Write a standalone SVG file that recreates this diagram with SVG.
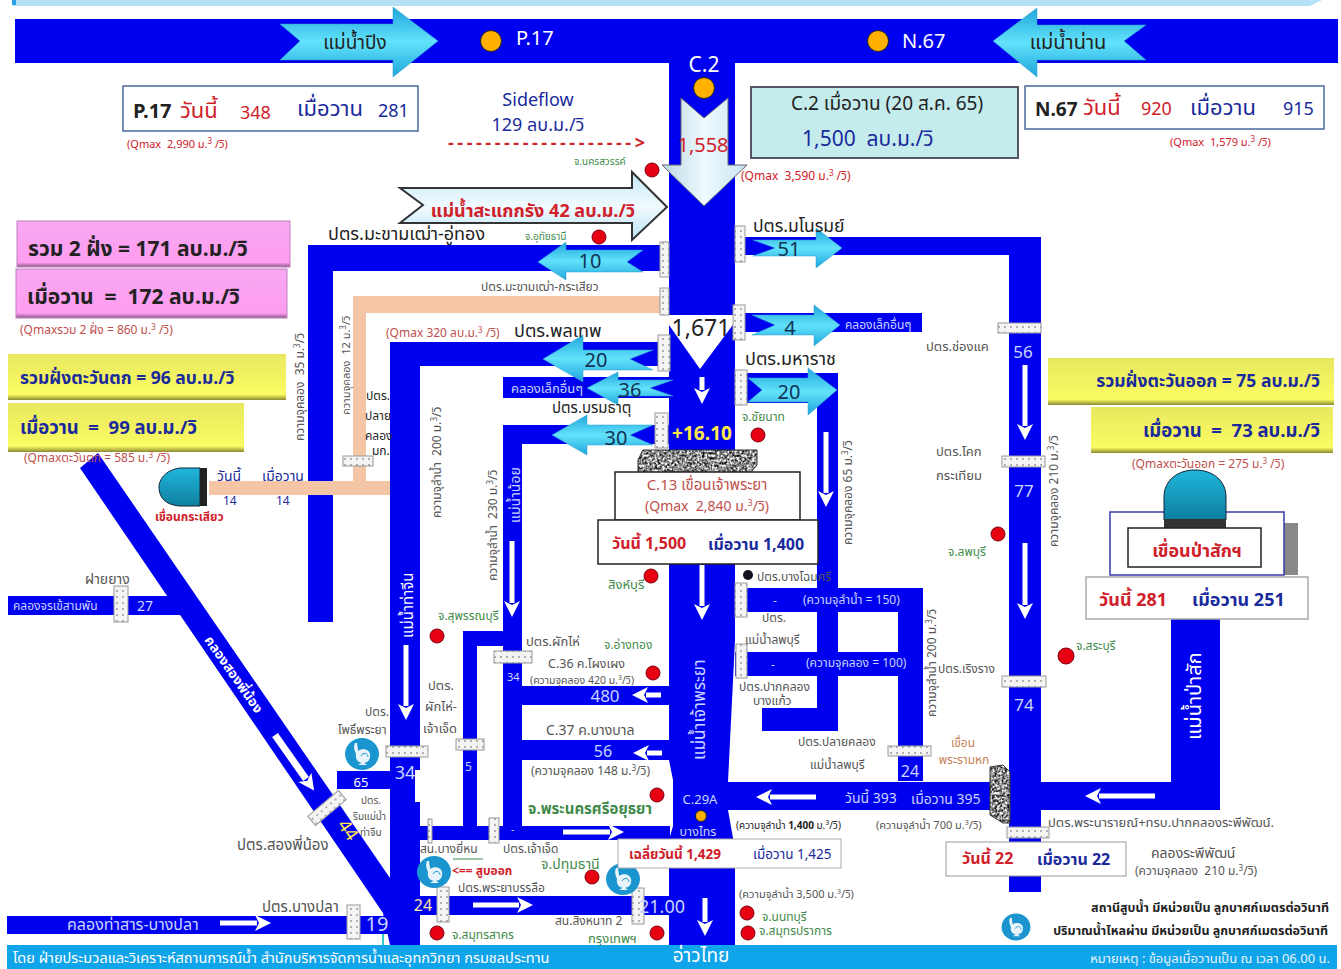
<svg xmlns="http://www.w3.org/2000/svg" width="1341" height="969" viewBox="0 0 1341 969">
<style>
text{font-family:"Noto Sans Thai","Liberation Sans","Noto Sans","Noto Sans CJK SC",sans-serif;fill:#333;white-space:pre}
.c{text-anchor:middle}.r{text-anchor:end}.b{font-weight:bold}
.red{fill:#d0202a}.navy{fill:#1a2a9c}.dk{fill:#222}.gr{fill:#3f8a4a}.gy{fill:#555}.lt{fill:#c9d6ff}.w{fill:#fff}.pk{fill:#c0504d}.yl{fill:#ffe94a}.nv{fill:#135}
.ch{fill:#0000f0}.pe{fill:#f5c6a5}
.gate{fill:url(#dots);stroke:#999;stroke-width:1}
.ca{fill:url(#cy);stroke:#2a9fd0;stroke-width:.5}
.ar{fill:none;stroke:#fff;stroke-width:5;marker-end:url(#h)}
.rd{fill:#e60012;stroke:#7a0010;stroke-width:1}
.or{fill:#ffb000;stroke:#222;stroke-width:1}
.box{fill:#fff;stroke:#4a6a9a;stroke-width:1.5}
.bk{fill:#fff;stroke:#222;stroke-width:1.5}
.pump{fill:#1a95cf}
</style>
<defs>
<linearGradient id="cy" x1="0" y1="0" x2="0" y2="1"><stop offset="0" stop-color="#1fa6dc"/><stop offset=".5" stop-color="#62e2fb"/><stop offset="1" stop-color="#1fa6dc"/></linearGradient>
<linearGradient id="lc" x1="0" y1="0" x2="0" y2="1"><stop offset="0" stop-color="#c0e8f8"/><stop offset=".5" stop-color="#f2fbff"/><stop offset="1" stop-color="#b8e2f2"/></linearGradient>
<linearGradient id="ld" x1="0" y1="0" x2="1" y2="0"><stop offset="0" stop-color="#bcd8e2"/><stop offset=".5" stop-color="#eefaff"/><stop offset="1" stop-color="#c8e4ee"/></linearGradient>
<linearGradient id="pkg" x1="0" y1="0" x2="0" y2="1"><stop offset="0" stop-color="#f8a8f0"/><stop offset=".9" stop-color="#ff9df2"/><stop offset="1" stop-color="#8a5a88"/></linearGradient>
<linearGradient id="ylg" x1="0" y1="0" x2="0" y2="1"><stop offset="0" stop-color="#e8e860"/><stop offset=".88" stop-color="#fbfb62"/><stop offset="1" stop-color="#8a8a30"/></linearGradient>
<linearGradient id="dom" x1="0" y1="0" x2="0" y2="1"><stop offset="0" stop-color="#1fb6dc"/><stop offset="1" stop-color="#0f7f9f"/></linearGradient>
<pattern id="dots" width="6" height="6" patternUnits="userSpaceOnUse"><rect width="6" height="6" fill="#f4f4f4"/><circle cx="3" cy="3" r="1" fill="#999"/></pattern>
<marker id="h" markerUnits="userSpaceOnUse" markerWidth="18" markerHeight="18" refX="2" refY="9" orient="auto"><path d="M0,1 L16,9 L0,17 L4,9Z" fill="#fff"/></marker>
<filter id="noise" x="0" y="0" width="1" height="1" color-interpolation-filters="sRGB"><feTurbulence type="fractalNoise" baseFrequency=".4" numOctaves="2"/><feColorMatrix values="2 0 0 0 -.45 2 0 0 0 -.45 2 0 0 0 -.45 0 0 0 0 1"/><feComposite in2="SourceGraphic" operator="in"/></filter>
<g id="pu"><ellipse rx="17" ry="16" class="pump"/><path d="M-7,-11C-9,-6 -7,-3 -6,0C-7,5 -4,9 1,9C6,9 9,5 8,0C7,-5 0,-6 -4,-3C-4,-6 -5,-9 -5,-11Z" fill="#e8f4fa"/><path d="M-4,11H5L1,8Z" fill="#e8f4fa"/><path d="M-1,2C1,-2 6,-1 6,3" fill="none" stroke="#1a95cf"/></g>
</defs>
<rect width="1341" height="969" fill="#fff"/>
<g id="banners">
<path d="M13,0H1322L1310,6H13Z" fill="#b5e0f5"/><rect x="12" y="0" width="4" height="5" fill="#2aa0e8"/>
<rect x="7" y="945" width="1330" height="24" fill="#10a4ea"/>
</g>
<g id="connectors">
<rect class="ch" x="15" y="19" width="1323" height="44"/>
<path class="ch" d="M669,63H735V640L728,782V810L733,838L735,850V945H669V840L673,826V780L669,760Z"/>
<path class="ch" d="M735,237H1041V892H1009V255H735Z"/>
<path class="ch" d="M333,622H308V245H670V271H333Z"/>
<path class="ch" d="M735,313H922V332H735Z"/>
<path class="ch" d="M420,945H390V342H670V366H420V770H415V802H420Z"/>
<rect class="ch" x="503" y="377" width="167" height="21"/>
<path class="ch" d="M522,826H503V425H670V444H522Z"/>
<path class="ch" d="M735,373H838V731H762V708H817V403H735Z"/>
<path class="ch" d="M735,588H923V781H898V612H735Z"/>
<rect class="ch" x="735" y="652" width="165" height="24"/>
<rect class="ch" x="522" y="686" width="147" height="19"/>
<rect class="ch" x="522" y="740" width="147" height="20"/>
<rect class="ch" x="420" y="826" width="250" height="14"/>
<path class="ch" d="M463,826V631H503V646H477V826Z"/>
<rect class="ch" x="420" y="896" width="250" height="19"/>
<rect class="ch" x="337" y="771" width="55" height="18"/>
<path class="ch" d="M80,468L98,453L390,878V945L383,913Z"/>
<rect class="ch" x="8" y="596" width="172" height="19"/>
<rect class="ch" x="7" y="916" width="384" height="18"/>
<path class="ch" d="M728,782H1171V619H1220V810H728Z"/>
<path class="pe" d="M353,296H660V313H366V481H390V495H209V481H353Z"/>
<rect x="382" y="934" width="2" height="11" fill="#3cc"/>
<path fill="#fff" d="M669,315H735V322L700,369L669,325Z"/>
<line class="ar" x1="702" y1="377" x2="702" y2="390"/>
<line class="ar" x1="702" y1="565" x2="702" y2="606"/>
<line class="ar" x1="512" y1="541" x2="512" y2="603"/>
<line class="ar" x1="826" y1="432" x2="826" y2="493"/>
<line class="ar" x1="1025" y1="365" x2="1025" y2="426"/>
<line class="ar" x1="1025" y1="543" x2="1025" y2="605"/>
<line class="ar" x1="406" y1="645" x2="406" y2="706"/>
<line class="ar" x1="275" y1="735" x2="306" y2="779" style="stroke-width:7"/>
<line class="ar" x1="220" y1="923" x2="257" y2="923"/>
<line class="ar" x1="661" y1="695" x2="646" y2="695"/>
<line class="ar" x1="662" y1="753" x2="647" y2="753"/>
<line class="ar" x1="563" y1="832" x2="610" y2="832"/>
<line class="ar" x1="473" y1="905" x2="519" y2="905"/>
<line class="ar" x1="705" y1="898" x2="705" y2="922"/>
<line class="ar" x1="816" y1="797" x2="770" y2="797"/>
<line class="ar" x1="1155" y1="796" x2="1099" y2="796"/>
</g>
<g id="flow-arrows">
<polygon class="ca" points="280,24 393,24 393,7 438,41 393,77 393,60 280,60 300,41"/>
<polygon class="ca" points="1146,25 1037,25 1037,8 993,41 1037,77 1037,60 1146,60 1124,41"/>
<polygon points="400,188 632,188 632,172 667,207 632,240 632,223 400,223 423,205" fill="url(#lc)" stroke="#333" stroke-width="2"/>
<polygon points="681,98 704,118 728,98 728,165 747,165 704,206 662,165 681,165" fill="url(#ld)" stroke="#667" stroke-width="1"/>
<polygon class="ca" points="643,250 566,250 566,242 538,262 566,280 566,272 643,272 627,262"/>
<polygon class="ca" points="753,240 816,240 816,228 842,248 816,268 816,256 753,256 775,248"/>
<polygon class="ca" points="752,315 814,315 814,305 840,325 814,346 814,335 752,335 775,325"/>
<polygon class="ca" points="748,378 808,378 808,368 837,390 808,415 808,402 748,402 762,390"/>
<polygon class="ca" points="653,350 583,350 583,335 543,359 583,382 583,370 653,370 630,359"/>
<polygon class="ca" points="673,380 618,380 618,372 587,388 618,405 618,396 673,396 650,388"/>
<polygon class="ca" points="653,425 587,425 587,415 552,435 587,455 587,445 653,445 630,435"/>
</g>
<g id="gates">
<rect class="gate" x="660" y="242" width="9" height="35"/>
<rect class="gate" x="660" y="288" width="9" height="27"/>
<rect class="gate" x="735" y="226" width="10" height="36"/>
<rect class="gate" x="733" y="305" width="12" height="35"/>
<rect class="gate" x="658" y="335" width="12" height="36"/>
<rect class="gate" x="735" y="370" width="12" height="35"/>
<rect class="gate" x="655" y="413" width="13" height="35"/>
<rect class="gate" x="735" y="583" width="12" height="34"/>
<rect class="gate" x="736" y="644" width="11" height="34"/>
<rect class="gate" x="998" y="323" width="43" height="10"/>
<rect class="gate" x="1002" y="456" width="43" height="11"/>
<rect class="gate" x="1002" y="676" width="44" height="11"/>
<rect class="gate" x="888" y="746" width="43" height="10"/>
<rect class="gate" x="1007" y="827" width="42" height="11"/>
<rect class="gate" x="386" y="746" width="42" height="11"/>
<rect class="gate" x="114" y="586" width="14" height="36"/>
<rect class="gate" x="347" y="905" width="13" height="34"/>
<rect class="gate" x="437" y="887" width="12" height="35"/>
<rect class="gate" x="632" y="888" width="12" height="36"/>
<rect class="gate" x="307" y="802" width="40" height="12" transform="rotate(-40 327 808)"/>
<rect class="gate" x="494" y="651" width="38" height="12"/>
<rect class="gate" x="456" y="739" width="28" height="11"/>
<rect class="gate" x="343" y="456" width="30" height="10"/>
<rect class="gate" x="489" y="818" width="10" height="25"/>
<rect class="gate" x="428" y="819" width="4" height="24"/>
</g>
<g id="dots">
<circle class="rd" cx="652" cy="170" r="7"/><circle class="rd" cx="599" cy="237" r="7"/><circle class="rd" cx="758" cy="435" r="7"/><circle class="rd" cx="651" cy="576" r="7"/><circle class="rd" cx="998" cy="534" r="7"/><circle class="rd" cx="1066" cy="656" r="8"/><circle class="rd" cx="437" cy="636" r="7"/><circle class="rd" cx="653" cy="673" r="7"/><circle class="rd" cx="657" cy="795" r="7"/><circle class="rd" cx="592" cy="877" r="7"/><circle class="rd" cx="437" cy="933" r="7"/><circle class="rd" cx="657" cy="933" r="7"/><circle class="rd" cx="747" cy="913" r="7"/><circle class="rd" cx="748" cy="933" r="7"/>
<circle class="or" cx="491" cy="41" r="10.500"/><circle class="or" cx="878" cy="41" r="10.500"/><circle class="or" cx="704" cy="88" r="10.500"/><circle class="or" cx="701" cy="816" r="5.500"/><circle cx="748" cy="575" r="5" fill="#112"/>
<use href="#pu" x="362" y="754"/><use href="#pu" x="434" y="872"/><use href="#pu" x="623" y="879"/><use href="#pu" transform="translate(1016 927) scale(.85)"/>
</g>
<g id="p17-box"><rect class="box" x="123" y="86" width="295" height="45"/>
<text class="b dk" x="133" y="118" font-size="20">P.17</text><text class="red" x="180" y="118" font-size="22">วันนี้</text><text class="red" x="240" y="119" font-size="18">348</text><text class="navy" x="297" y="116" font-size="22">เมื่อวาน</text><text class="navy" x="378" y="117" font-size="18">281</text></g>
<g id="c2-box"><rect x="751" y="87" width="267" height="71" fill="#c5ecec" stroke="#556" stroke-width="2"/>
<text class="c dk" x="887" y="110" font-size="19">C.2 เมื่อวาน (20 ส.ค. 65)</text><text class="navy" x="802" y="146" font-size="21">1,500  ลบ.ม./วิ</text></g>
<g id="n67-box"><rect class="box" x="1025" y="86" width="299" height="43"/>
<text class="b dk" x="1035" y="116" font-size="19">N.67</text><text class="red" x="1083" y="115" font-size="22">วันนี้</text><text class="red" x="1141" y="115" font-size="18">920</text><text class="navy" x="1190" y="115" font-size="22">เมื่อวาน</text><text class="navy" x="1283" y="115" font-size="18">915</text></g>
<g id="sum-boxes">
<rect x="17" y="221" width="273" height="46" fill="url(#pkg)" stroke="#c080c0"/><text class="b dk" x="28" y="256" font-size="21">รวม 2 ฝั่ง = 171 ลบ.ม./วิ</text>
<rect x="16" y="269" width="271" height="49" fill="url(#pkg)" stroke="#c080c0"/><text class="b dk" x="27" y="304" font-size="21">เมื่อวาน  =  172 ลบ.ม./วิ</text>
<rect x="8" y="354" width="278" height="46" fill="url(#ylg)"/><text class="b navy" x="20" y="384" font-size="17.500">รวมฝั่งตะวันตก = 96 ลบ.ม./วิ</text>
<rect x="8" y="403" width="236" height="49" fill="url(#ylg)"/><text class="b navy" x="20" y="434" font-size="18.500">เมื่อวาน  =  99 ลบ.ม./วิ</text>
<rect x="1048" y="358" width="286" height="47" fill="url(#ylg)"/><text class="b navy r" x="1320" y="387" font-size="17.500">รวมฝั่งตะวันออก = 75 ลบ.ม./วิ</text>
<rect x="1091" y="407" width="242" height="46" fill="url(#ylg)"/><text class="b navy r" x="1320" y="437" font-size="18.500">เมื่อวาน  =  73 ลบ.ม./วิ</text>
</g>
<g id="krasiao-dam">
<path d="M200,468H180C165,470 159,480 159,487C159,497 165,505 180,506H200Z" fill="url(#dom)" stroke="#123" stroke-width="1"/><rect x="200" y="468" width="7" height="38" fill="#222"/>
<text class="navy" x="217" y="481" font-size="14">วันนี้</text><text class="navy" x="262" y="481" font-size="14">เมื่อวาน</text><text class="navy" x="223" y="505" font-size="12">14</text><text class="navy" x="276" y="505" font-size="12">14</text><text class="b red" x="155" y="521" font-size="12">เขื่อนกระเสียว</text></g>
<g id="chao-phraya-dam">
<polygon points="643,450 757,450 757,465 750,473 638,473 638,460" fill="#8a8a8a" stroke="#333" filter="url(#noise)"/>
<polygon points="643,450 757,450 757,465 750,473 638,473 638,460" fill="none" stroke="#333"/>
<rect class="bk" x="615" y="472" width="185" height="48"/>
<text class="c pk" x="707" y="490" font-size="15">C.13 เขื่อนเจ้าพระยา</text><text class="c pk" x="707" y="511" font-size="14">(Qmax  2,840 ม.<tspan font-size="9" dy="-5">3</tspan><tspan dy="5">/วิ)</tspan></text>
<rect class="bk" x="598" y="520" width="220" height="44"/>
<text class="b red" x="612" y="549" font-size="16">วันนี้ 1,500</text><text class="b navy" x="708" y="550" font-size="16">เมื่อวาน 1,400</text></g>
<g id="pasak-dam">
<rect x="1284" y="523" width="14" height="52" fill="#888"/>
<rect x="1110" y="512" width="174" height="63" fill="#fff" stroke="#3a3aa8" stroke-width="1.500"/>
<path d="M1164,520V497C1164,480 1178,470 1195,470C1212,470 1226,480 1226,497V520Z" fill="url(#dom)" stroke="#123"/><rect x="1164" y="519" width="62" height="10" fill="#333"/>
<rect class="bk" x="1128" y="528" width="133" height="39"/>
<text class="c b red" x="1197" y="557" font-size="18">เขื่อนป่าสักฯ</text>
<rect x="1086" y="577" width="222" height="42" fill="#fff" stroke="#aaa" stroke-width="1.500"/>
<text class="b red" x="1099" y="606" font-size="18">วันนี้ 281</text><text class="b navy" x="1192" y="606" font-size="18">เมื่อวาน 251</text></g>
<g id="rama6-dam">
<polygon points="990,767 1003,765 1010,772 1010,823 1003,823 990,815" fill="#8a8a8a" filter="url(#noise)"/>
<polygon points="990,767 1003,765 1010,772 1010,823 1003,823 990,815" fill="none" stroke="#333"/>
<rect x="946" y="842" width="180" height="34" fill="#fff" stroke="#999"/>
<text class="b red" x="962" y="864" font-size="16">วันนี้ 22</text><text class="b navy" x="1037" y="865" font-size="16">เมื่อวาน 22</text></g>
<g id="avg-box"><rect x="618" y="839" width="223" height="29" fill="#fff" stroke="#aaa"/>
<text class="b red" x="629" y="859" font-size="13.500">เฉลี่ยวันนี้ 1,429</text><text class="navy" x="753" y="859" font-size="13.500">เมื่อวาน 1,425</text></g>
<g id="labels">
<text class="c dk" x="355" y="49" font-size="19">แม่น้ำปิง</text>
<text class="w" x="516" y="45" font-size="20">P.17</text><text class="w" x="902" y="48" font-size="20">N.67</text>
<text class="c dk" x="1068" y="49" font-size="20">แม่น้ำน่าน</text>
<text class="c w" x="704" y="72" font-size="21">C.2</text>
<text class="red" x="127" y="148" font-size="11">(Qmax  2,990 ม.<tspan font-size="8" dy="-4">3</tspan><tspan dy="4"> /วิ)</tspan></text>
<text class="c navy" x="538" y="106" font-size="18">Sideflow</text><text class="c navy" x="538" y="131" font-size="18">129 ลบ.ม./วิ</text>
<text class="red b" x="448" y="149" font-size="18" textLength="197">--------------------&gt;</text>
<text class="gr" x="574" y="165" font-size="10">จ.นครสวรรค์</text>
<text class="c red" x="703" y="152" font-size="20">1,558</text>
<text class="red" x="741" y="180" font-size="12">(Qmax  3,590 ม.<tspan font-size="8" dy="-4">3</tspan><tspan dy="4"> /วิ)</tspan></text>
<text class="red" x="1170" y="146" font-size="11">(Qmax  1,579 ม.<tspan font-size="8" dy="-4">3</tspan><tspan dy="4"> /วิ)</tspan></text>
<text class="c b red" x="533" y="217" font-size="18">แม่น้ำสะแกกรัง 42 ลบ.ม./วิ</text>
<text class="dk" x="328" y="240" font-size="18">ปตร.มะขามเฒ่า-อู่ทอง</text>
<text class="gr" x="525" y="240" font-size="10">จ.อุทัยธานี</text>
<text class="c nv" x="590" y="268" font-size="20">10</text>
<text class="gy" x="481" y="291" font-size="12">ปตร.มะขามเฒ่า-กระเสียว</text>
<text class="dk" x="753" y="232" font-size="17.500">ปตร.มโนรมย์</text>
<text class="c nv" x="789" y="256" font-size="20">51</text>
<text class="pk" x="20" y="334" font-size="12">(Qmaxรวม 2 ฝั่ง = 860 ม.<tspan font-size="8" dy="-4">3</tspan><tspan dy="4"> /วิ)</tspan></text>
<text class="pk" x="24" y="462" font-size="12">(Qmaxตะวันตก = 585 ม.<tspan font-size="8" dy="-4">3</tspan><tspan dy="4"> /วิ)</tspan></text>
<text class="gy" transform="translate(304 441) rotate(-90)" font-size="12">ความจุคลอง  35 ม.<tspan font-size="8" dy="-4">3</tspan><tspan dy="4">/วิ</tspan></text>
<text class="gy" transform="translate(350 415) rotate(-90)" font-size="11">ความจุคลอง  12 ม.<tspan font-size="8" dy="-4">3</tspan><tspan dy="4">/วิ</tspan></text>
<text class="dk" x="366" y="400" font-size="12">ปตร.</text><text class="dk" x="365" y="420" font-size="12">ปลาย</text><text class="dk" x="365" y="440" font-size="12">คลอง</text><text class="dk" x="372" y="455" font-size="12">มก.</text>
<text class="pk" x="386" y="337" font-size="12">(Qmax 320 ลบ.ม.<tspan font-size="8" dy="-4">3</tspan><tspan dy="4"> /วิ)</tspan></text>
<text class="dk" x="514" y="337" font-size="18">ปตร.พลเทพ</text>
<text class="gy" transform="translate(441 518) rotate(-90)" font-size="12">ความจุลำน้ำ  200 ม.<tspan font-size="8" dy="-4">3</tspan><tspan dy="4">/วิ</tspan></text>
<text class="w" transform="translate(413 638) rotate(-90)" font-size="15">แม่น้ำท่าจีน</text>
<text class="c dk" x="701" y="336" font-size="23">1,671</text>
<text class="c b yl" x="702" y="440" font-size="19">+16.10</text>
<text class="lt" x="511" y="393" font-size="13">คลองเล็กอื่นๆ</text>
<text class="c nv" x="630" y="397" font-size="20">36</text>
<text class="dk" x="552" y="413" font-size="15">ปตร.บรมธาตุ</text>
<text class="c nv" x="616" y="445" font-size="20">30</text>
<text class="c nv" x="596" y="367" font-size="20">20</text>
<text class="c nv" x="790" y="335" font-size="20">4</text>
<text class="lt" x="845" y="329" font-size="12">คลองเล็กอื่นๆ</text>
<text class="dk" x="745" y="365" font-size="18">ปตร.มหาราช</text>
<text class="c nv" x="789" y="399" font-size="20">20</text>
<text class="gr" x="742" y="421" font-size="12">จ.ชัยนาท</text>
<text class="lt" transform="translate(520 523) rotate(-90)" font-size="14">แม่น้ำน้อย</text>
<text class="gy" transform="translate(497 581) rotate(-90)" font-size="12">ความจุลำน้ำ  230 ม.<tspan font-size="8" dy="-4">3</tspan><tspan dy="4">/วิ</tspan></text>
<text class="gr" x="608" y="589" font-size="13">สิงห์บุรี</text>
<text class="gy" x="757" y="581" font-size="12">ปตร.บางโฉมศรี</text>
<text class="gy" x="762" y="622" font-size="12">ปตร.</text><text class="gy" x="745" y="644" font-size="12">แม่น้ำลพบุรี</text>
<text class="lt" x="773" y="605" font-size="12">-</text><text class="lt" x="803" y="604" font-size="12">(ความจุลำน้ำ = 150)</text>
<text class="lt" x="771" y="669" font-size="12">-</text><text class="lt" x="806" y="667" font-size="12">(ความจุคลอง = 100)</text>
<text class="gy" transform="translate(936 717) rotate(-90)" font-size="12">ความจุลำน้ำ 200 ม.<tspan font-size="8" dy="-4">3</tspan><tspan dy="4">/วิ</tspan></text>
<text class="gy" transform="translate(852 545) rotate(-90)" font-size="12">ความจุคลอง 65 ม.<tspan font-size="8" dy="-4">3</tspan><tspan dy="4">/วิ</tspan></text>
<text class="gy" x="926" y="351" font-size="13">ปตร.ช่องแค</text>
<text class="c lt" x="1023" y="358" font-size="17">56</text>
<text class="gy" x="936" y="456" font-size="13">ปตร.โคก</text><text class="gy" x="936" y="480" font-size="13">กระเทียม</text>
<text class="c lt" x="1024" y="497" font-size="17">77</text>
<text class="gy" transform="translate(1058 547) rotate(-90)" font-size="12">ความจุคลอง 210 ม.<tspan font-size="8" dy="-4">3</tspan><tspan dy="4">/วิ</tspan></text>
<text class="gr" x="948" y="556" font-size="12">จ.ลพบุรี</text>
<text class="gy" x="938" y="673" font-size="12">ปตร.เริงราง</text>
<text class="gr" x="1076" y="650" font-size="12">จ.สระบุรี</text>
<text class="c lt" x="1024" y="711" font-size="17">74</text>
<text class="w" transform="translate(1201 740) rotate(-90)" font-size="20">แม่น้ำป่าสัก</text>
<text class="c" x="963" y="747" font-size="12" fill="#c87f55" style="fill:#c87f55">เขื่อน</text><text class="c" x="964" y="764" font-size="12" style="fill:#c87f55">พระรามหก</text>
<text class="c lt" x="910" y="777" font-size="16">24</text>
<text class="lt" x="845" y="803" font-size="14">วันนี้ 393</text><text class="lt" x="911" y="804" font-size="14">เมื่อวาน 395</text>
<text class="gy" x="876" y="829" font-size="11">(ความจุลำน้ำ 700 ม.<tspan font-size="7" dy="-4">3</tspan><tspan dy="4">/วิ)</tspan></text>
<text class="dk" x="736" y="829" font-size="10">(ความจุลำน้ำ <tspan class="b">1,400</tspan> ม.<tspan font-size="7" dy="-4">3</tspan><tspan dy="4">/วิ)</tspan></text>
<text class="gy" x="798" y="746" font-size="12">ปตร.ปลายคลอง</text><text class="gy" x="810" y="769" font-size="12">แม่น้ำลพบุรี</text>
<text class="gy" x="739" y="691" font-size="12">ปตร.ปากคลอง</text><text class="gy" x="753" y="705" font-size="12">บางแก้ว</text>
<text class="gy" x="1048" y="827" font-size="13">ปตร.พระนารายณ์+ทรบ.ปากคลองระพีพัฒน์.</text>
<text class="gy" x="1151" y="858" font-size="14">คลองระพีพัฒน์</text>
<text class="gy" x="1135" y="875" font-size="12">(ความจุคลอง  210 ม.<tspan font-size="8" dy="-4">3</tspan><tspan dy="4">/วิ)</tspan></text>
<text class="r b dk" x="1329" y="912" font-size="12.500">สถานีสูบน้ำ มีหน่วยเป็น ลูกบาศก์เมตรต่อวินาที</text>
<text class="r b dk" x="1328" y="935" font-size="12.500">ปริมาณน้ำไหลผ่าน มีหน่วยเป็น ลูกบาศก์เมตรต่อวินาที</text>
<text class="r" x="1330" y="963" font-size="13" style="fill:#e6f4ff">หมายเหตุ : ข้อมูลเมื่อวานเป็น ณ เวลา 06.00 น.</text>
<text class="w" x="13" y="963" font-size="14.500">โดย ฝ่ายประมวลและวิเคราะห์สถานการณ์น้ำ สำนักบริหารจัดการน้ำและอุทกวิทยา กรมชลประทาน</text>
<text class="c w" x="701" y="962" font-size="19">อ่าวไทย</text>
<text class="gy" x="85" y="584" font-size="14">ฝายยาง</text>
<text class="lt" x="13" y="610" font-size="12">คลองจรเข้สามพัน</text>
<text class="c lt" x="145" y="611" font-size="14">27</text>
<text class="b w" transform="translate(204 640) rotate(55)" font-size="13.500">คลองสองพี่น้อง</text>
<text class="gy" x="365" y="716" font-size="12">ปตร.</text><text class="gy" x="338" y="734" font-size="12">โพธิ์พระยา</text>
<text class="c w" x="361" y="787" font-size="13">65</text>
<text class="c lt" x="405" y="779" font-size="18">34</text>
<text class="gy" x="361" y="804" font-size="10">ปตร.</text><text class="gy" x="353" y="820" font-size="10">ริมแม่น้ำ</text><text class="gy" x="360" y="836" font-size="10">ท่าจีน</text>
<text class="yl" transform="translate(337 825) rotate(55)" font-size="18">44</text>
<text class="gy" x="237" y="850" font-size="15">ปตร.สองพี่น้อง</text>
<text class="gy" x="262" y="912" font-size="15">ปตร.บางปลา</text>
<text class="lt" x="67" y="930" font-size="16">คลองท่าสาร-บางปลา</text>
<text class="c lt" x="377" y="931" font-size="20">19</text>
<text class="lt" transform="translate(705 760) rotate(-90)" font-size="17">แม่น้ำเจ้าพระยา</text>
<text class="gy" x="428" y="690" font-size="13">ปตร.</text><text class="gy" x="425" y="711" font-size="13">ผักไห่-</text><text class="gy" x="423" y="733" font-size="13">เจ้าเจ็ด</text>
<text class="gr" x="438" y="620" font-size="12">จ.สุพรรณบุรี</text>
<text class="gy" x="526" y="646" font-size="13">ปตร.ผักไห่</text>
<text class="gr" x="604" y="649" font-size="12">จ.อ่างทอง</text>
<text class="gy" x="548" y="668" font-size="12.500">C.36 ค.โผงเผง</text>
<text class="gy" x="530" y="684" font-size="10.500">(ความจุคลอง 420 ม.<tspan font-size="7" dy="-4">3</tspan><tspan dy="4">/วิ)</tspan></text>
<text class="lt" x="507" y="681" font-size="11">34</text>
<text class="c lt" x="605" y="702" font-size="17">480</text>
<text class="gy" x="546" y="735" font-size="14">C.37 ค.บางบาล</text>
<text class="c lt" x="603" y="757" font-size="16">56</text>
<text class="gy" x="531" y="775" font-size="12">(ความจุคลอง 148 ม.<tspan font-size="8" dy="-4">3</tspan><tspan dy="4">/วิ)</tspan></text>
<text class="lt" x="465" y="771" font-size="12">5</text>
<text class="b gr" x="528" y="814" font-size="15">จ.พระนครศรีอยุธยา</text>
<text class="lt" x="511" y="833" font-size="11">-</text>
<text class="c lt" x="700" y="804" font-size="13">C.29A</text>
<text class="c lt" x="698" y="836" font-size="12.500">บางไทร</text>
<text class="gy" x="420" y="853" font-size="12">สน.บางยี่หน</text>
<text class="gy" x="503" y="853" font-size="12">ปตร.เจ้าเจ็ด</text>
<text class="gr" x="541" y="869" font-size="14">จ.ปทุมธานี</text>
<text class="b red" x="452" y="875" font-size="12">&lt;== สูบออก</text>
<line x1="453" y1="859" x2="483" y2="859" stroke="#3f8a4a"/>
<text class="gy" x="458" y="892" font-size="12">ปตร.พระยาบรรลือ</text>
<text class="c" x="423" y="911" font-size="16" style="fill:#ffe9a0">24</text>
<text class="c lt" x="662" y="913" font-size="18">21.00</text>
<text class="gy" x="555" y="925" font-size="12">สน.สิงหนาท 2</text>
<text class="gr" x="452" y="939" font-size="12">จ.สมุทรสาคร</text>
<text class="gr" x="588" y="943" font-size="13">กรุงเทพฯ</text>
<text class="gr" x="762" y="921" font-size="12">จ.นนทบุรี</text>
<text class="gr" x="759" y="935" font-size="12">จ.สมุทรปราการ</text>
<text class="gy" x="739" y="898" font-size="11">(ความจุลำน้ำ 3,500 ม.<tspan font-size="7" dy="-4">3</tspan><tspan dy="4">/วิ)</tspan></text>
<text class="pk" x="1132" y="468" font-size="12">(Qmaxตะวันออก = 275 ม.<tspan font-size="8" dy="-4">3</tspan><tspan dy="4"> /วิ)</tspan></text>
</g>
</svg>
